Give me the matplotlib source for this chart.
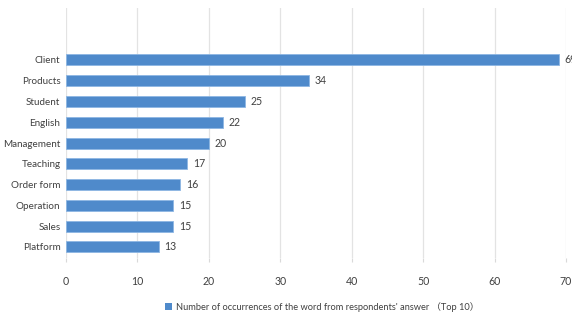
import matplotlib
matplotlib.use("Agg")
import matplotlib.pyplot as plt
from matplotlib.patches import Patch

categories = ["Client", "Products", "Student", "English", "Management",
              "Teaching", "Order form", "Operation", "Sales", "Platform"]
counts = [69, 34, 25, 22, 20, 17, 16, 15, 15, 13]
x_ticks = [0, 10, 20, 30, 40, 50, 60, 70]
legend_label = "Number of occurrences of the word from respondents' answer （Top 10）"

fonts = ["Lato", "Noto Sans CJK SC", "DejaVu Sans"]
plt.rcParams["font.family"] = fonts

bar_color = "#4F8ACB"
text_color = "#404040"
fs = 7.6

fig = plt.figure(figsize=(5.72, 3.2), dpi=100)
ax = fig.add_axes([66 / 572, 62 / 320, 500 / 572, 250 / 320])

pos = list(range(len(categories)))[::-1]
ax.barh(pos, counts, height=0.53, color=bar_color, edgecolor="#8DB6E3", linewidth=0.6, zorder=3)
for p, v in zip(pos, counts):
    ax.text(v + 0.8, p, str(v), va="center", ha="left", fontsize=fs,
            color=text_color, clip_on=False)

ax.set_xlim(0, 70)
ax.set_ylim(-0.53, 11.5)
ax.set_xticks(x_ticks)
ax.set_yticks(pos)
ax.set_yticklabels(categories)
ax.tick_params(axis="y", length=0, pad=4, labelsize=7.1, labelcolor=text_color)
ax.tick_params(axis="x", length=3, color="#D9D9D9", pad=10, labelsize=fs, labelcolor=text_color)
ax.grid(axis="x", color="#E3E3E3", linewidth=0.9, zorder=0)
for s in ax.spines.values():
    s.set_visible(False)

fig.legend(handles=[Patch(facecolor=bar_color, edgecolor="none")], labels=[legend_label],
           loc="center", bbox_to_anchor=(322 / 572, 1 - 307 / 320), frameon=False,
           fontsize=6.7, handlelength=0.75, handleheight=0.75, handletextpad=0.4,
           labelcolor=text_color)

fig.savefig("out.png", dpi=100)
